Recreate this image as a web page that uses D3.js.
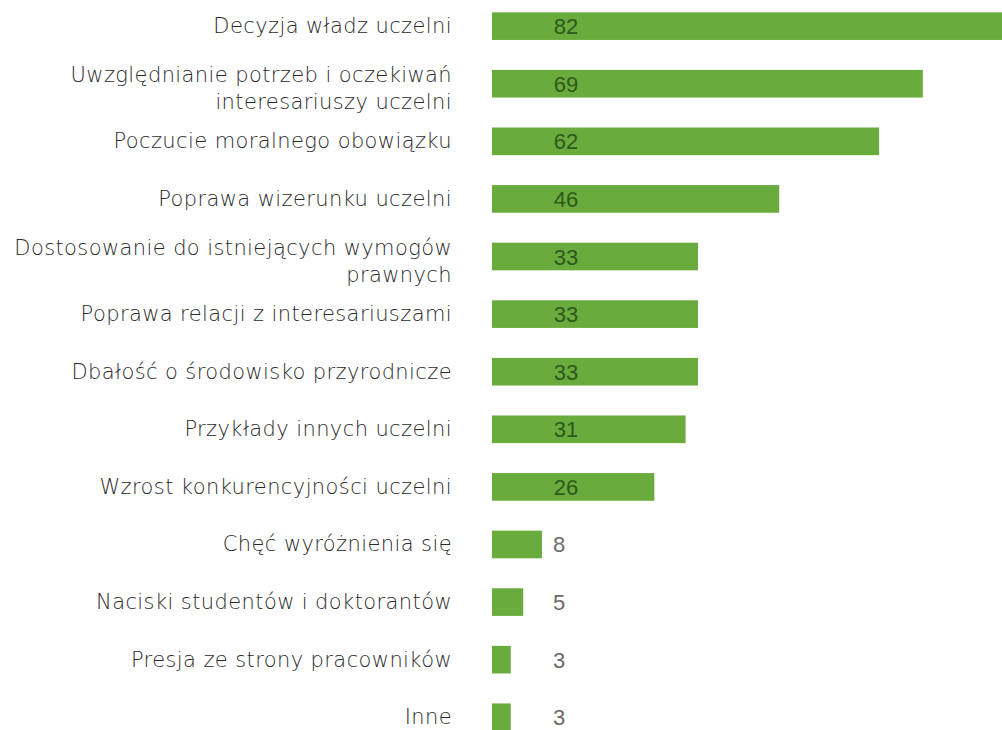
<!DOCTYPE html>
<html>
<head>
<meta charset="utf-8">
<script src="https://cdn.jsdelivr.net/npm/d3@7"></script>
<style>
  body { margin: 0; background: #fff; overflow: hidden; }
  svg { display: block; }
</style>
</head>
<body>
<div id="chart"></div>
<script>
var categories = [
  "Decyzja władz uczelni",
  "Uwzględnianie potrzeb i oczekiwań\ninteresariuszy uczelni",
  "Poczucie moralnego obowiązku",
  "Poprawa wizerunku uczelni",
  "Dostosowanie do istniejących wymogów\nprawnych",
  "Poprawa relacji z interesariuszami",
  "Dbałość o środowisko przyrodnicze",
  "Przykłady innych uczelni",
  "Wzrost konkurencyjności uczelni",
  "Chęć wyróżnienia się",
  "Naciski studentów i doktorantów",
  "Presja ze strony pracowników",
  "Inne"
];
var values = [82, 69, 62, 46, 33, 33, 33, 31, 26, 8, 5, 3, 3];

var width = 1002, height = 730;
var x0 = 492;
var green = "#6aab3d";

var svg = d3.select("#chart").append("svg")
  .attr("width", width)
  .attr("height", height);

var x = d3.scaleLinear()
  .domain([0, 82])
  .range([x0, x0 + 512]);

var y = d3.scaleBand()
  .domain(categories)
  .range([12.3, 731.1])
  .paddingInner(0.52)
  .paddingOuter(0);

var rows = categories.map(function(c, i){ return {cat: c, value: values[i]}; });

// bars
svg.selectAll("rect.bar").data(rows).enter()
  .append("rect")
  .attr("class", "bar")
  .attr("x", x(0))
  .attr("y", function(d){ return y(d.cat); })
  .attr("width", function(d){ return x(d.value) - x(0); })
  .attr("height", y.bandwidth())
  .attr("fill", green);

// category labels
var lbl = svg.selectAll("text.cat").data(rows).enter()
  .append("text")
  .attr("class", "cat")
  .attr("text-anchor", "end")
  .attr("font-family", "'DejaVu Sans', sans-serif")
  .attr("font-weight", 200)
  .attr("font-size", 21)
  .attr("letter-spacing", 0.4)
  .attr("fill", "#2a2a2a");

lbl.each(function(d){
  var lines = d.cat.split("\n");
  var cy = y(d.cat) + y.bandwidth() / 2;
  var t = d3.select(this);
  lines.forEach(function(line, i){
    var base = lines.length > 1 ? cy - 2 + i * 27 : cy + 7;
    t.append("tspan")
      .attr("x", x(0) - 40)
      .attr("y", base)
      .text(line);
  });
});

// value labels
svg.selectAll("text.val").data(rows).enter()
  .append("text")
  .attr("class", "val")
  .attr("text-anchor", "middle")
  .attr("font-family", "'Liberation Sans', Arial, sans-serif")
  .attr("font-size", 22)
  .attr("fill", function(d){ return d.value > 10 ? "#2c5a1a" : "#6a6a6a"; })
  .attr("x", function(d){ return x(0) + (d.value > 10 ? 74 : 67); })
  .attr("y", function(d){ return y(d.cat) + y.bandwidth() / 2 + 8; })
  .text(function(d){ return d.value; });
</script>
</body>
</html>
